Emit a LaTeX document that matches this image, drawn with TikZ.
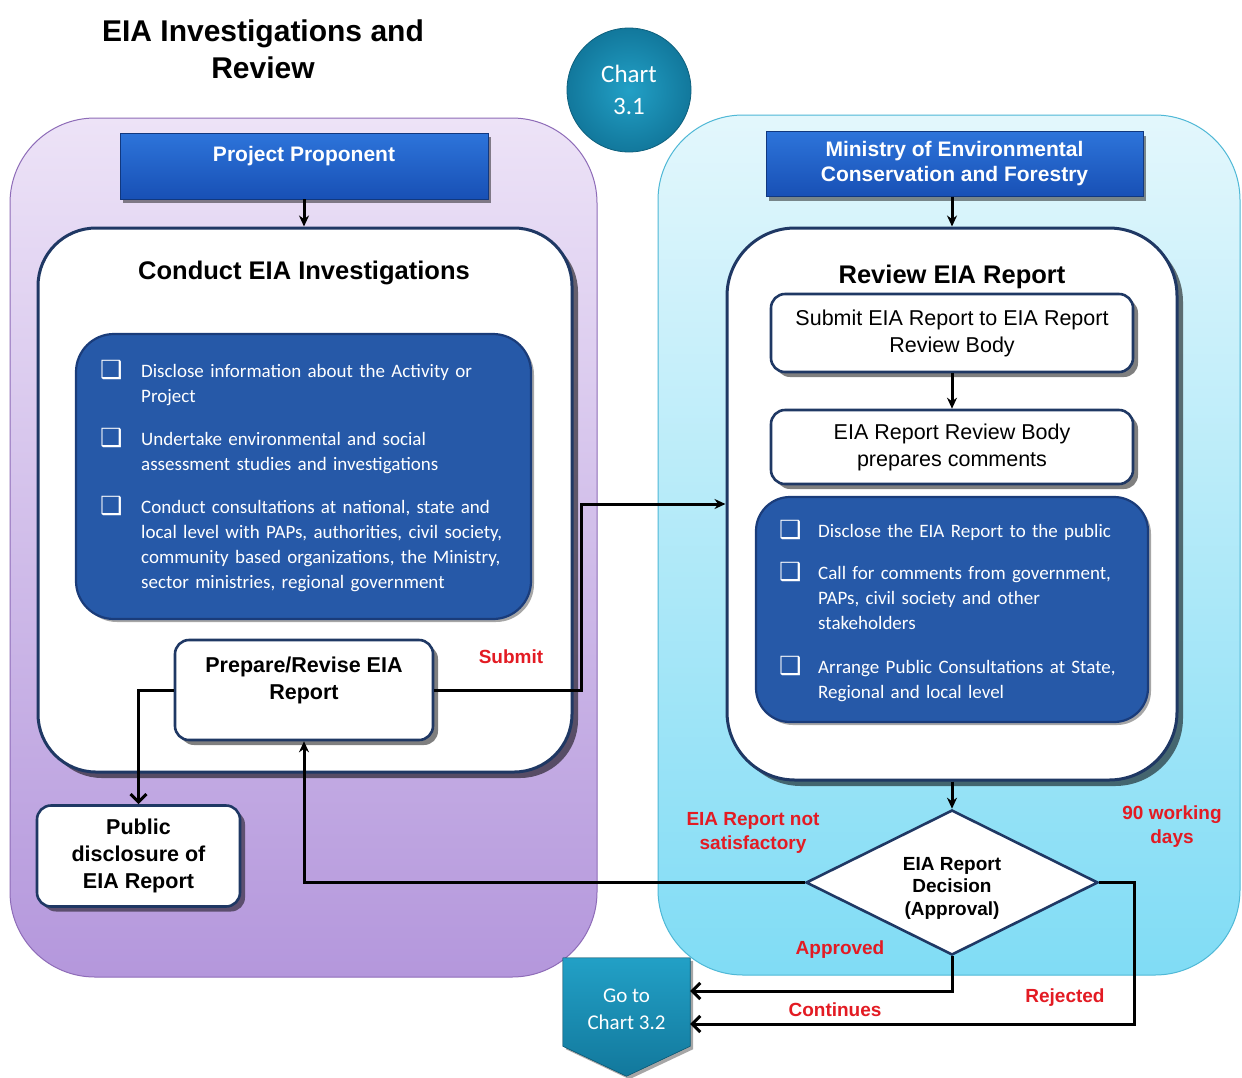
\documentclass[tikz,border=0pt]{standalone}
\usepackage{fontspec}
\setmainfont{Liberation Sans}
\newfontfamily\calfont{Carlito}
\newfontfamily\symfont{DejaVu Sans}
\usetikzlibrary{shapes.geometric,arrows.meta,shadows,calc}
\definecolor{navy}{HTML}{1F3864}
\definecolor{purtop}{HTML}{EDE3F7}
\definecolor{purbot}{HTML}{B497DC}
\definecolor{purline}{HTML}{8E6CB8}
\definecolor{cyantop}{HTML}{E3F7FC}
\definecolor{cyanbot}{HTML}{80DCF5}
\definecolor{cyanline}{HTML}{4FB8D6}
\definecolor{hdrtop}{HTML}{2D74DA}
\definecolor{hdrbot}{HTML}{1850B5}
\definecolor{cblue}{HTML}{2659A8}
\definecolor{cblueline}{HTML}{1A3C7A}
\definecolor{tealin}{HTML}{22A0C6}
\definecolor{tealout}{HTML}{12789C}
\definecolor{labred}{HTML}{E31B23}
\tikzset{
  panel/.style={rectangle, line width=1pt, inner sep=0},
  hdr/.style={rectangle, top color=hdrtop, bottom color=hdrbot, draw=hdrbot!70!black, line width=0.6pt,
    text=white, align=center, font=\bfseries\fontsize{21}{25}\selectfont,
    drop shadow={shadow xshift=3pt, shadow yshift=-4pt, fill=black, opacity=0.45}},
  bigbox/.style={rectangle, fill=white, draw=navy, line width=3pt, inner sep=0,
    drop shadow={shadow xshift=6pt, shadow yshift=-6pt, fill=black, opacity=0.55}},
  wbox/.style={rectangle, rounded corners=14pt, fill=white, draw=navy, line width=2.6pt, inner sep=0,
    align=center, drop shadow={shadow xshift=5pt, shadow yshift=-5pt, fill=black, opacity=0.5}},
  bluebox/.style={rectangle, fill=cblue, draw=cblueline, line width=2.2pt, inner sep=0,
    drop shadow={shadow xshift=3pt, shadow yshift=-3pt, fill=black, opacity=0.35}},
  ptitle/.style={font=\bfseries\fontsize{25.5}{30}\selectfont},
  bold21/.style={font=\bfseries\fontsize{21.5}{27}\selectfont, align=center},
  reg21/.style={font=\fontsize{21.5}{27}\selectfont, align=center},
  itemtxt/.style={anchor=base west, inner sep=0, align=left, text=white,
    font=\calfont\fontsize{19}{25}\selectfont},
  chk/.style={anchor=base west, inner sep=0, text=white, font=\symfont\fontsize{25}{25}\selectfont},
  redlab/.style={text=labred, align=center, font=\bfseries\fontsize{19}{24}\selectfont},
  conn/.style={line width=3pt, draw=black},
  solidtip/.style={-{Stealth[length=11pt,width=10pt]}},
  barbtip/.style={-{Straight Barb[length=8pt,width=16pt,line width=3pt]}}
}
\begin{document}
\begin{tikzpicture}[x=1pt,y=-1pt]
\useasboundingbox (0,0) rectangle (1242,1077);
\fill[white] (0,0) rectangle (1242,1077);

% panels
\node (lp) [panel, rounded corners=85pt, top color=purtop, bottom color=purbot, draw=purline,
  minimum width=587pt, minimum height=859pt] at (303.5,547.5) {};
\node (rp) [panel, rounded corners=85pt, top color=cyantop, bottom color=cyanbot, draw=cyanline,
  minimum width=582pt, minimum height=860pt] at (949,545) {};

% title and chart badge
\node (title) [font=\bfseries\fontsize{30}{37}\selectfont, align=center] at (263,49) {EIA Investigations and\\Review};
\node (chart) [circle, minimum size=124pt, inner color=tealin, outer color=tealout, draw=tealout!80!black,
  line width=0.8pt, text=white, align=center, font=\calfont\fontsize{25}{32}\selectfont] at (629,90) {Chart\\3.1};

% left side
\node (pp) [hdr, minimum width=368pt, minimum height=66pt] at (304,166) {};
\node (ppT) [text=white, font=\bfseries\fontsize{21}{25}\selectfont] at (304,156) {Project Proponent};
\node (inL) [bigbox, rounded corners=58pt, minimum width=534pt, minimum height=544pt] at (305,500) {};
\node (inLt) [ptitle] at (304,273) {Conduct EIA Investigations};
\node (blueL) [bluebox, rounded corners=38pt, minimum width=455pt, minimum height=285pt] at (303.5,476.5) {};
\node (cL1) [chk] at (100,378) {❑};
\node (iL1) [itemtxt, text width=400pt] at (141,377) {Disclose information about the Activity or\\Project};
\node (cL2) [chk] at (100,446) {❑};
\node (iL2) [itemtxt, text width=400pt] at (141,445) {Undertake environmental and social\\assessment studies and investigations};
\node (cL3) [chk] at (100,514) {❑};
\node (iL3) [itemtxt, text width=400pt] at (141,513) {Conduct consultations at national, state and\\local level with PAPs, authorities, civil society,\\community based organizations, the Ministry,\\sector ministries, regional government};
\node (prep) [wbox, minimum width=258pt, minimum height=100pt] at (304,690) {};
\node (prepT) [bold21] at (304,680) {Prepare/Revise EIA\\Report};
\node (pub) [wbox, minimum width=203pt, minimum height=101pt, bold21] at (138.5,856) {Public\\disclosure of\\EIA Report};
\node (subL) [redlab] at (511,657) {Submit};

% right side
\node (mn) [hdr, minimum width=377pt, minimum height=65pt] at (954.5,164) {Ministry of Environmental\\Conservation and Forestry};
\node (inR) [bigbox, rounded corners=68pt, minimum width=450pt, minimum height=552pt] at (952,504) {};
\node (inRt) [ptitle] at (952,277) {Review EIA Report};
\node (sub) [wbox, reg21, minimum width=362pt, minimum height=78pt] at (952,333) {Submit EIA Report to EIA Report\\Review Body};
\node (rb) [wbox, reg21, minimum width=362pt, minimum height=74pt] at (952,447) {EIA Report Review Body\\prepares comments};
\node (blueR) [bluebox, rounded corners=34pt, minimum width=392pt, minimum height=225pt] at (952,609.5) {};
\node (cR1) [chk] at (779,538) {❑};
\node (iR1) [itemtxt, text width=340pt] at (818,537) {Disclose the EIA Report to the public};
\node (cR2) [chk] at (779,580) {❑};
\node (iR2) [itemtxt, text width=340pt] at (818,579) {Call for comments from government,\\PAPs, civil society and other\\stakeholders};
\node (cR3) [chk] at (779,674) {❑};
\node (iR3) [itemtxt, text width=340pt] at (818,673) {Arrange Public Consultations at State,\\Regional and local level};

\node (dia) [diamond, draw=navy, line width=2.6pt, fill=white, inner sep=0,
  minimum width=292pt, minimum height=145pt] at (952,882.5) {};
\node (diaT) [font=\bfseries\fontsize{19}{22.5}\selectfont, align=center] at (952,888) {EIA Report\\Decision\\(Approval)};
\node (notsat) [redlab] at (753,833) {EIA Report not\\satisfactory};
\node (days) [redlab] at (1172,827) {90 working\\days};
\node (appr) [redlab] at (840,950) {Approved};
\node (cont) [redlab] at (835,1010) {Continues};
\node (rej) [redlab] at (1065,998) {Rejected};

% go to chart 3.2
\node (goto) [minimum width=127pt, minimum height=88pt, inner sep=0] at (626.5,1002) {};
\fill[top color=tealin, bottom color=tealout, draw=tealout!80!black, line width=0.6pt,
  drop shadow={shadow xshift=3pt, shadow yshift=-3pt, fill=black, opacity=0.35}]
  (goto.north west) -- (goto.north east) -- (goto.south east) -- ($(goto.south)+(0,30)$) -- (goto.south west) -- cycle;
\node (gotoT) [text=white, align=center, font=\calfont\fontsize{21}{27}\selectfont] at (626.5,1009) {Go to\\Chart 3.2};

% connectors
\draw[conn, solidtip] (pp.south) -- (pp.south |- inL.north);
\draw[conn, solidtip] (inR.north |- mn.south) -- (inR.north);
\draw[conn, solidtip] (sub.south) -- (rb.north);
\draw[conn, solidtip] (inR.south) -- (dia.north);
\draw[conn, barbtip] (prep.west) -| (pub.north);
\draw[conn, solidtip] (prep.east) -- ++(147,0) |- (inR.west);
\draw[conn, solidtip] (dia.west) -| (prep.south);
\draw[conn, barbtip] (dia.south) |- ([yshift=11pt]goto.east);
\draw[conn, barbtip] (dia.east) -- ++(35,0) |- ([yshift=-22pt]goto.east);
\end{tikzpicture}
\end{document}
